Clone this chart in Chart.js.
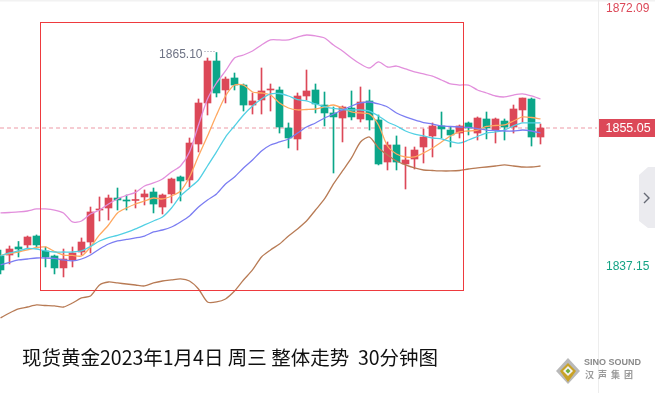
<!DOCTYPE html>
<html><head><meta charset="utf-8">
<script src="https://cdn.jsdelivr.net/npm/chart.js@4/dist/chart.umd.min.js"></script>
<style>
html,body{margin:0;padding:0;background:#fff;}
#wrap{position:relative;width:655px;height:393px;overflow:hidden;background:#fff;}
#c{position:absolute;left:0;top:0;}
#title{position:absolute;left:22px;top:345px;font-family:"Noto Sans CJK SC","Noto Sans",sans-serif;font-size:19.5px;line-height:24px;color:#111;white-space:pre;}
#logo1{position:absolute;left:584px;top:357px;font-family:"Liberation Sans",Arial,sans-serif;font-weight:bold;font-size:9px;color:#8a8a8a;letter-spacing:0px;white-space:pre;}
#logo2{position:absolute;left:585px;top:368px;font-family:"Noto Sans CJK SC",sans-serif;font-weight:bold;font-size:9px;color:#9a9a9a;letter-spacing:4px;white-space:pre;}
</style></head><body>
<div id="wrap"><canvas id="c" width="655" height="393"></canvas>
<div id="title">现货黄金2023年1月4日 周三 整体走势  30分钟图</div>
<div id="logo1">SINO SOUND</div>
<div id="logo2">汉声集团</div>
</div>
<script>
// candle index (30-minute bars)
const categories = [0,1,2,3,4,5,6,7,8,9,10,11,12,13,14,15,16,17,18,19,20,21,22,23,24,25,26,27,28,29,30,31,32,33,34,35,36,37,38,39,40,41,42,43,44,45,46,47,48,49,50,51,52,53,54,55,56,57,58,59,60];
const opens  = [1838.01,1838.14,1839.21,1839.48,1840.67,1838.68,1838.01,1836.42,1837.48,1838.54,1839.87,1844.13,1844.40,1845.73,1845.47,1845.40,1845.87,1846.53,1844.53,1846.27,1848.53,1848.13,1852.92,1858.38,1863.97,1860.11,1861.71,1860.77,1858.11,1858.78,1860.11,1860.11,1855.05,1853.59,1859.31,1860.11,1858.11,1857.05,1856.38,1857.71,1856.25,1858.65,1856.12,1850.52,1852.79,1850.26,1850.92,1852.52,1853.99,1855.32,1854.78,1854.38,1855.72,1854.38,1856.25,1854.78,1855.98,1855.18,1857.45,1858.91,1853.85];
const highs  = [1838.81,1839.34,1839.94,1840.67,1840.81,1839.21,1838.14,1838.94,1839.21,1840.41,1844.53,1845.87,1846.13,1847.06,1846.13,1846.80,1846.80,1847.06,1846.27,1848.39,1848.66,1853.72,1858.91,1864.37,1865.10,1861.84,1862.37,1860.91,1859.71,1863.04,1860.91,1860.51,1855.72,1859.71,1862.77,1860.91,1859.84,1857.85,1857.98,1859.98,1860.51,1860.11,1856.78,1853.19,1853.99,1852.52,1852.52,1854.92,1855.72,1857.18,1855.18,1855.45,1855.85,1856.52,1857.18,1856.38,1856.25,1858.11,1859.04,1859.04,1855.58];
const lows   = [1835.62,1836.95,1837.88,1838.94,1839.08,1836.55,1835.62,1835.22,1836.55,1838.14,1838.41,1842.67,1842.80,1844.13,1844.13,1844.40,1844.80,1843.74,1843.60,1845.07,1845.33,1847.20,1851.86,1856.78,1859.18,1858.38,1860.11,1857.31,1856.91,1856.91,1857.31,1854.38,1852.39,1852.12,1858.78,1857.05,1855.32,1849.06,1853.19,1856.12,1855.85,1854.78,1850.13,1849.46,1849.46,1846.93,1849.59,1850.39,1851.19,1853.72,1852.52,1853.72,1854.12,1853.45,1853.59,1853.05,1853.45,1854.38,1855.85,1852.65,1852.92];
const closes = [1836.15,1838.94,1838.94,1840.54,1839.48,1837.88,1836.42,1837.61,1838.41,1839.87,1843.87,1844.27,1845.73,1845.47,1845.33,1845.49,1846.27,1844.93,1846.13,1848.26,1848.00,1853.05,1858.38,1863.97,1859.71,1861.57,1860.77,1858.11,1858.65,1859.98,1860.24,1855.18,1853.72,1859.31,1859.98,1858.25,1857.05,1856.52,1857.85,1856.52,1858.51,1856.12,1850.26,1852.79,1850.52,1850.79,1852.12,1853.85,1855.32,1854.92,1854.12,1855.32,1855.05,1856.38,1855.05,1856.25,1855.18,1857.58,1859.04,1853.85,1855.05];
// moving averages / Bollinger bands
const ma5       = [1838.08,1838.34,1838.54,1838.81,1839.14,1839.21,1838.61,1838.14,1838.08,1838.01,1839.21,1840.81,1842.14,1843.74,1844.40,1844.93,1845.33,1845.73,1845.60,1846.00,1846.66,1848.53,1851.32,1853.99,1856.78,1859.31,1860.77,1860.77,1859.84,1859.71,1859.44,1858.38,1857.71,1857.45,1857.51,1857.58,1857.85,1858.11,1857.71,1857.18,1857.05,1856.91,1855.45,1852.65,1851.59,1851.19,1851.19,1851.72,1852.39,1853.19,1853.99,1854.52,1854.65,1854.78,1855.25,1855.38,1855.45,1855.98,1856.52,1856.45,1856.25];
const ma10      = [1838.01,1838.41,1838.68,1839.01,1838.94,1838.68,1838.54,1838.54,1838.54,1838.68,1839.28,1840.01,1840.47,1840.74,1841.14,1841.61,1842.14,1842.67,1843.20,1844.40,1846.00,1847.06,1848.13,1849.99,1851.86,1853.85,1855.32,1856.78,1857.98,1858.91,1859.58,1859.64,1859.31,1858.84,1858.65,1858.25,1857.91,1857.65,1857.51,1857.45,1857.45,1857.31,1856.65,1855.85,1855.32,1854.65,1854.25,1853.99,1853.72,1853.59,1853.25,1853.05,1853.45,1853.92,1854.38,1854.52,1854.78,1855.32,1855.72,1855.72,1855.72];
const bollMid   = [1836.82,1837.15,1837.48,1837.61,1837.74,1837.74,1837.68,1837.48,1837.35,1837.61,1838.14,1838.94,1839.61,1840.01,1840.21,1840.41,1840.67,1841.21,1841.47,1841.87,1842.54,1843.34,1844.53,1845.47,1846.27,1847.60,1848.53,1849.73,1850.79,1851.99,1852.79,1853.19,1853.59,1854.38,1855.18,1855.72,1856.38,1856.91,1857.45,1857.98,1858.38,1858.51,1858.25,1857.85,1857.05,1856.52,1856.12,1855.78,1855.58,1855.32,1855.25,1855.18,1855.12,1854.98,1854.78,1854.72,1854.65,1854.65,1854.78,1854.65,1854.38];
const bollUpper = [1843.74,1843.80,1843.87,1844.00,1844.27,1844.27,1844.13,1843.74,1842.54,1842.67,1843.60,1844.13,1844.93,1845.60,1846.07,1846.47,1847.33,1847.73,1848.26,1849.19,1849.99,1851.86,1855.45,1858.91,1861.04,1862.64,1864.37,1864.77,1865.30,1866.10,1866.77,1866.77,1866.77,1867.16,1867.43,1867.30,1867.03,1866.10,1865.30,1864.37,1863.57,1863.04,1863.84,1863.17,1863.30,1862.91,1862.51,1862.24,1861.97,1861.44,1860.91,1860.77,1860.77,1860.11,1859.71,1859.31,1859.18,1859.44,1859.58,1859.31,1858.91];
const bollLower = [1829.76,1830.42,1830.96,1831.22,1831.49,1831.42,1831.36,1831.22,1831.75,1832.42,1832.69,1834.15,1834.55,1834.42,1834.28,1834.15,1834.02,1834.42,1834.68,1834.82,1834.95,1834.68,1833.62,1831.89,1831.89,1832.29,1833.35,1834.82,1836.15,1837.88,1838.81,1839.61,1840.67,1841.61,1842.67,1844.13,1845.60,1847.60,1849.33,1851.06,1853.19,1853.85,1852.39,1851.46,1850.66,1850.13,1849.73,1849.46,1849.39,1849.33,1849.33,1849.39,1849.59,1849.73,1849.86,1849.99,1850.13,1849.99,1849.86,1849.86,1849.99];
// price axis labels
const axisMax = 1872.09;
const axisMinLabel = 1837.15;
const lastPrice = 1855.05;
const highMarkIndex = 24;
const highMarkLabel = '1865.10';
// highlighted region (candle index / price)
const boxX = [4.41, 51.44];
const boxY = [1869.12, 1833.49];

const RED = '#dc4858', GREEN = '#0ba689';
const candleColors = categories.map(i => closes[i] >= opens[i] ? RED : GREEN);
const pts = arr => categories.map(i => ({x: i, y: arr[i]}));

const overlay = {
  id: 'overlay',
  beforeDatasetsDraw(chart) {
    const {ctx, scales: {y}, chartArea} = chart;
    const py = Math.round(y.getPixelForValue(lastPrice));
    ctx.save();
    ctx.strokeStyle = '#f4bcc4';
    ctx.lineWidth = 1.6;
    ctx.setLineDash([4, 3]);
    ctx.beginPath(); ctx.moveTo(chartArea.left, py); ctx.lineTo(chartArea.right, py); ctx.stroke();
    ctx.restore();
  },
  afterDatasetsDraw(chart) {
    const {ctx, scales: {x, y}} = chart;
    ctx.save();
    // red box
    const x0 = Math.round(x.getPixelForValue(boxX[0])) + 0.5, x1 = Math.round(x.getPixelForValue(boxX[1])) + 0.5;
    const y0 = Math.round(y.getPixelForValue(boxY[0])) + 0.5, y1 = Math.round(y.getPixelForValue(boxY[1])) + 0.5;
    ctx.strokeStyle = '#ee3a3e'; ctx.lineWidth = 1;
    ctx.strokeRect(x0, y0, x1 - x0, y1 - y0);
    // high label
    const hx = x.getPixelForValue(highMarkIndex), hy = y.getPixelForValue(highs[highMarkIndex]);
    ctx.font = '12px "Liberation Sans", Arial, sans-serif';
    ctx.fillStyle = '#6e7385'; ctx.textAlign = 'right'; ctx.textBaseline = 'middle';
    ctx.fillText(highMarkLabel, hx - 14, hy + 2);
    ctx.strokeStyle = '#8a8fa0'; ctx.setLineDash([1, 2]);
    ctx.beginPath(); ctx.moveTo(hx - 12, Math.round(hy) - 1.5); ctx.lineTo(hx - 1, Math.round(hy) - 1.5); ctx.stroke();
    ctx.restore();
  },
  afterDraw(chart) {
    const {ctx, scales: {y}, chartArea} = chart;
    ctx.save();
    ctx.fillStyle = '#f2f2f2'; ctx.fillRect(0, 0, 655, 1.5);
    ctx.strokeStyle = '#ededed'; ctx.lineWidth = 1;
    ctx.beginPath(); ctx.moveTo(598.5, 0); ctx.lineTo(598.5, 393); ctx.stroke();
    ctx.font = '12px "Liberation Sans", Arial, sans-serif';
    ctx.textAlign = 'left'; ctx.textBaseline = 'middle';
    ctx.fillStyle = '#dc4858';
    ctx.fillText(axisMax.toFixed(2), 606, Math.max(y.getPixelForValue(axisMax) + 4, 9));
    ctx.fillStyle = '#14a384';
    ctx.fillText(axisMinLabel.toFixed(2), 606, y.getPixelForValue(axisMinLabel) + 4);
    // last price tag
    const py = Math.round(y.getPixelForValue(lastPrice));
    ctx.fillStyle = '#dc4858'; ctx.fillRect(599, py - 9, 56, 18);
    ctx.fillStyle = '#ffffff'; ctx.font = '12.5px "Liberation Sans", Arial, sans-serif';
    ctx.fillText(lastPrice.toFixed(2), 605.5, py + 1);
    // side tab
    ctx.fillStyle = '#ebebef';
    ctx.beginPath();
    ctx.moveTo(639, 175); ctx.lineTo(648, 167); ctx.lineTo(655, 167); ctx.lineTo(655, 228); ctx.lineTo(648, 228); ctx.lineTo(639, 221); ctx.closePath(); ctx.fill();
    ctx.strokeStyle = '#666a75'; ctx.lineWidth = 1.4;
    ctx.beginPath(); ctx.moveTo(644, 193); ctx.lineTo(649, 198); ctx.lineTo(644, 203); ctx.stroke();
    // logo diamond
    const cx = 568, cy = 371;
    ctx.fillStyle = '#b9b9b9';
    ctx.beginPath(); ctx.moveTo(cx, cy - 13); ctx.lineTo(cx + 12, cy); ctx.lineTo(cx, cy + 13); ctx.lineTo(cx - 12, cy); ctx.closePath(); ctx.fill();
    ctx.fillStyle = '#c9a227';
    ctx.beginPath(); ctx.moveTo(cx, cy - 8); ctx.lineTo(cx + 8, cy); ctx.lineTo(cx, cy + 11); ctx.lineTo(cx - 8, cy); ctx.closePath(); ctx.fill();
    ctx.fillStyle = '#f4f4f4';
    ctx.beginPath(); ctx.moveTo(cx, cy - 5); ctx.lineTo(cx + 5, cy); ctx.lineTo(cx, cy + 5); ctx.lineTo(cx - 5, cy); ctx.closePath(); ctx.fill();
    ctx.fillStyle = '#6fae3a';
    ctx.beginPath(); ctx.moveTo(cx, cy - 2.5); ctx.lineTo(cx + 2.5, cy); ctx.lineTo(cx, cy + 2.5); ctx.lineTo(cx - 2.5, cy); ctx.closePath(); ctx.fill();
    ctx.restore();
  }
};

const lineDs = (label, arr, color) => ({
  type: 'line', label, data: pts(arr), borderColor: color, borderWidth: 1.3,
  pointRadius: 0, tension: 0.25, fill: false, order: 0
});

new Chart(document.getElementById('c'), {
  data: {
    datasets: [
      lineDs('BOLL UP', bollUpper, '#e28fdc'),
      lineDs('BOLL DN', bollLower, '#b87b55'),
      lineDs('BOLL MID', bollMid, '#7b7df2'),
      lineDs('MA10', ma10, '#52d0e4'),
      lineDs('MA5', ma5, '#ffa860'),
      {type: 'bar', label: 'wick', data: categories.map(i => ({x: i, y: [lows[i], highs[i]]})),
       backgroundColor: candleColors, barThickness: 1, grouped: false, order: 2},
      {type: 'bar', label: 'body', data: categories.map(i => ({x: i, y: [opens[i], closes[i]]})),
       backgroundColor: candleColors, barThickness: 7, grouped: false, minBarLength: 1, order: 1}
    ]
  },
  options: {
    responsive: false, animation: false, events: [],
    layout: {padding: {left: 0, right: 58, top: 0, bottom: 0}},
    plugins: {legend: {display: false}, tooltip: {enabled: false}},
    scales: {
      x: {type: 'linear', display: false, offset: false, min: -0.05556, max: 66.27778},
      y: {type: 'linear', display: false, min: 1819.77, max: 1872.09}
    }
  },
  plugins: [overlay]
});
</script>
</body></html>
